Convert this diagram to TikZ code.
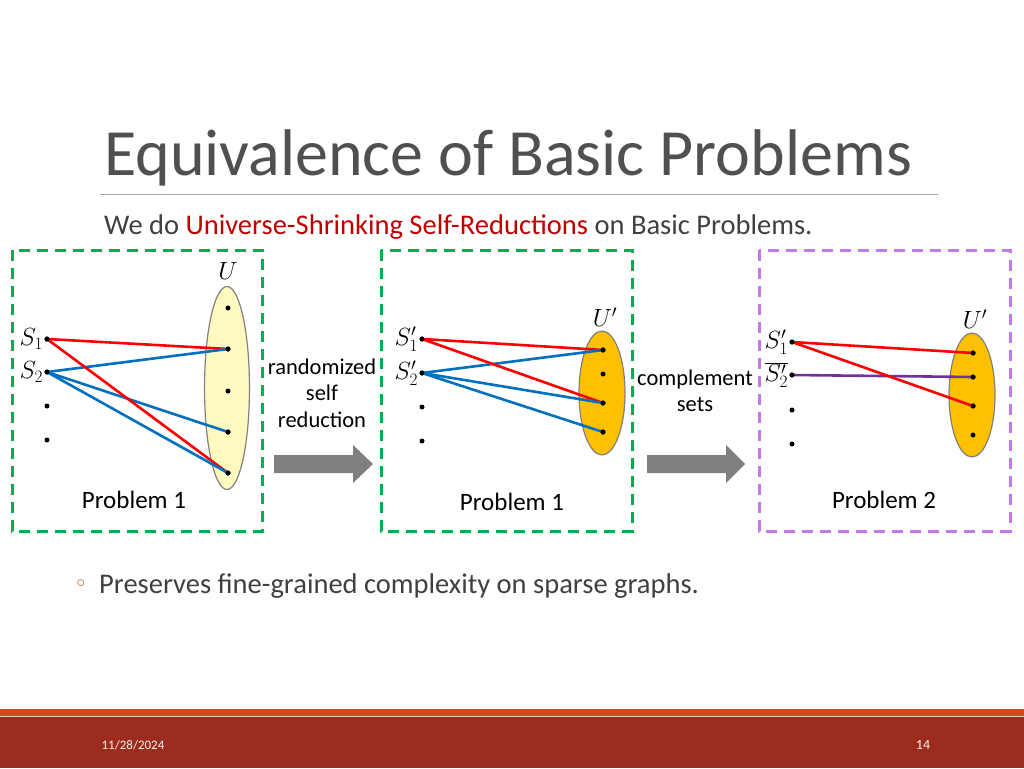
\documentclass[tikz,border=0pt]{standalone}
\usepackage{fontspec}
\setmainfont{Carlito}
\usetikzlibrary{shapes.geometric}
\definecolor{txtgray}{HTML}{404040}
\definecolor{titlegray}{HTML}{505050}
\definecolor{boxgreen}{HTML}{00B050}
\definecolor{boxpurple}{HTML}{C27BE6}
\definecolor{edgered}{HTML}{FF0000}
\definecolor{edgeblue}{HTML}{0070C0}
\definecolor{edgepurple}{HTML}{7030A0}
\definecolor{lightyellow}{HTML}{FFF9C0}
\definecolor{gold}{HTML}{FFC000}
\definecolor{arrowgray}{HTML}{7F7F7F}
\definecolor{darkred}{HTML}{C00000}
\definecolor{footred}{HTML}{9C2B20}
\definecolor{footorange}{HTML}{D24A1E}
\definecolor{bulletorange}{HTML}{D2552A}
\tikzset{
  pt/.style={circle,fill=black,inner sep=0pt,minimum size=5pt},
  dashbox/.style={line width=3pt,dash pattern=on 11pt off 7pt},
  redge/.style={edgered,line width=2.6pt},
  bedge/.style={edgeblue,line width=2.6pt},
  pedge/.style={edgepurple,line width=2.6pt},
  univ/.style={ellipse,draw=gray,line width=1.2pt,inner sep=0pt},
  lab/.style={font=\fontsize{25}{28}\selectfont},
  mlab/.style={font=\fontsize{25}{28}\selectfont,inner sep=1pt},
  small/.style={font=\fontsize{22.5}{26.5}\selectfont,align=center,text=black},
  bigarrow/.style={fill=arrowgray,draw=none}
}
\begin{document}
\begin{tikzpicture}[x=1pt,y=-1pt]
\useasboundingbox (0,0) rectangle (1024,768);
\fill[white] (0,0) rectangle (1024,768);
% title
\node[anchor=base west,inner sep=0pt,text=titlegray,font=\fontsize{66}{70}\selectfont] (title) at (104,175) {Equivalence of Basic Problems};
\draw[gray!70,line width=0.8pt] (100,194) -- (938,194);
\node[anchor=base west,inner sep=0pt,text=txtgray,font=\fontsize{28.5}{32}\selectfont] (sub) at (104,234) {We do \textcolor{darkred}{Universe-Shrinking Self-Reductions} on Basic Problems.};
% boxes
\draw[boxgreen,dashbox] (12,250) rectangle (262,531);
\draw[boxgreen,dashbox] (381,250) rectangle (632,531);
\draw[boxpurple,dashbox] (759,250) rectangle (1010,531);
% ---------- panel 1
\node[univ,fill=lightyellow,minimum width=45pt,minimum height=203pt] (U1) at (227,388) {};
\node[mlab] (U1l) at (228,271) {$U$};
\node[pt] (a1) at (228,308) {};
\node[pt] (a2) at (228,349) {};
\node[pt] (a3) at (228,391) {};
\node[pt] (a4) at (228,432) {};
\node[pt] (a5) at (228,473) {};
\node[pt] (s1) at (47,339) {};
\node[pt] (s2) at (47,372) {};
\node[pt] (s3) at (47,406) {};
\node[pt] (s4) at (47,440) {};
\node[mlab,anchor=east] (s1l) at (s1.west) {$S_1$};
\node[mlab,anchor=east] (s2l) at (s2.west) {$S_2$};
\draw[redge] (s1.center) -- (a2.center);
\draw[bedge] (s2.center) -- (a2.center);
\draw[bedge] (s2.center) -- (a4.center);
\draw[redge] (s1.center) -- (a5.center);
\draw[bedge] (s2.center) -- (a5.center);
\foreach \n in {a2,a4,a5,s1,s2} \node[pt] at (\n) {};
\node[lab,text=black] (p1) at (134,500) {Problem 1};
% arrow 1
\path[bigarrow] (274,455) -- (353,455) -- (353,445) -- (373,464) -- (353,483) -- (353,473) -- (274,473) -- cycle;
\node[small] (r1) at (322,393) {randomized\\self\\reduction};
% ---------- panel 2
\node[univ,fill=gold,minimum width=46pt,minimum height=124pt] (U2) at (602,393) {};
\node[mlab] (U2l) at (605,317) {$U'$};
\node[pt] (b1) at (603,350) {};
\node[pt] (b2) at (603,374) {};
\node[pt] (b3) at (603,403) {};
\node[pt] (b4) at (603,432) {};
\node[pt] (t1) at (422,339) {};
\node[pt] (t2) at (422,373) {};
\node[pt] (t3) at (422,407) {};
\node[pt] (t4) at (422,441) {};
\node[mlab,anchor=east] (t1l) at (t1.west) {$S_1'$};
\node[mlab,anchor=east] (t2l) at (t2.west) {$S_2'$};
\draw[redge] (t1.center) -- (b1.center);
\draw[bedge] (t2.center) -- (b1.center);
\draw[redge] (t1.center) -- (b3.center);
\draw[bedge] (t2.center) -- (b3.center);
\draw[bedge] (t2.center) -- (b4.center);
\foreach \n in {b1,b3,b4,t1,t2} \node[pt] at (\n) {};
\node[lab,text=black] (p2) at (512,502) {Problem 1};
% arrow 2
\path[bigarrow] (647,455) -- (726,455) -- (726,445) -- (745,464) -- (726,483) -- (726,473) -- (647,473) -- cycle;
\node[small] (c1) at (695,391) {complement\\sets};
% ---------- panel 3
\node[univ,fill=gold,minimum width=46pt,minimum height=124pt] (U3) at (972,395) {};
\node[mlab] (U3l) at (975,319) {$U'$};
\node[pt] (d1) at (973,353) {};
\node[pt] (d2) at (973,377) {};
\node[pt] (d3) at (973,406) {};
\node[pt] (d4) at (973,435) {};
\node[pt] (w1) at (792,342) {};
\node[pt] (w2) at (792,375) {};
\node[pt] (w3) at (792,410) {};
\node[pt] (w4) at (792,444) {};
\node[mlab,anchor=east] (w1l) at (w1.west) {$S_1'$};
\node[mlab,anchor=east] (w2l) at (w2.west) {$\overline{S_2'}$};
\draw[redge] (w1.center) -- (d1.center);
\draw[pedge] (w2.center) -- (d2.center);
\draw[redge] (w1.center) -- (d3.center);
\foreach \n in {d1,d2,d3,w1,w2} \node[pt] at (\n) {};
\node[lab,text=black] (p3) at (884,500) {Problem 2};
% bullet
\node[text=bulletorange,font=\fontsize{16}{18}\selectfont,inner sep=0pt] (bul) at (81,584) {$\circ$};
\node[anchor=base west,inner sep=0pt,text=txtgray,font=\fontsize{28.5}{32}\selectfont] (b) at (99,593) {Preserves fine-grained complexity on sparse graphs.};
% footer
\fill[footorange] (0,709) rectangle (1024,716);
\fill[footred] (0,717) rectangle (1024,768);
\draw[white!70!footorange,line width=0.8pt] (0,716.5) -- (1024,716.5);
\node[text=white!90!orange,font=\fontsize{13}{14}\selectfont,inner sep=0pt] (date) at (133,745) {11/28/2024};
\node[text=white!90!orange,font=\fontsize{14}{14}\selectfont,inner sep=0pt] (num) at (923,745) {14};
\end{tikzpicture}
\end{document}
